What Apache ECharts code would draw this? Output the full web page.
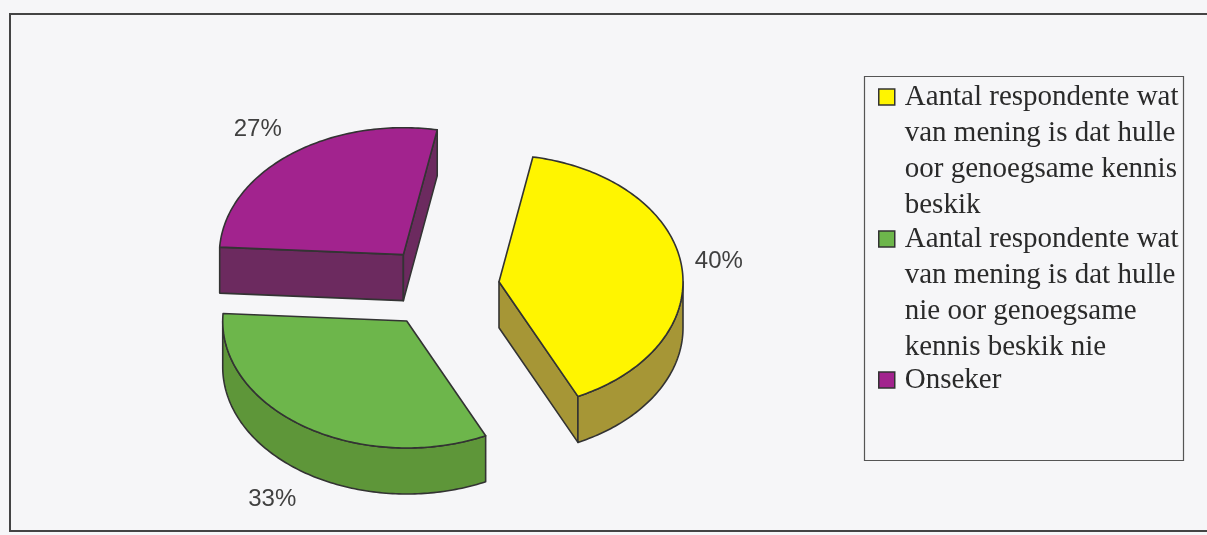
<!DOCTYPE html>
<html><head><meta charset="utf-8">
<script src="https://cdn.jsdelivr.net/npm/echarts@6/dist/echarts.min.js"></script>
<style>html,body{margin:0;padding:0;background:#f6f6f8}#chart{width:1207px;height:535px}</style>
</head><body><div id="chart"></div>
<script>
// ---- data ----
const categories = [
  'Aantal respondente wat van mening is dat hulle oor genoegsame kennis beskik',
  'Aantal respondente wat van mening is dat hulle nie oor genoegsame kennis beskik nie',
  'Onseker'
];
const legendLines = [
  ['Aantal respondente wat', 'van mening is dat hulle', 'oor genoegsame kennis', 'beskik'],
  ['Aantal respondente wat', 'van mening is dat hulle', 'nie oor genoegsame', 'kennis beskik nie'],
  ['Onseker']
];
const values = [40, 33, 27];

// ---- styles ----
const topColors = ['#FFF500', '#6DB64B', '#A2238E'];
const sideColors = ['#A69636', '#5E9639', '#6C2A5F'];

// ---- geometry of the pseudo-3D pie ----
const CX = 440, CY = 287, R = 184, K = 0.69, DEPTH = 46, EXPLODE = 59.5, START = 10.6;
const LRX = 257, LRY = 290;

const total = values.reduce((a, b) => a + b, 0);

function makeRender(i) {
  return function (params, api) {
    let before = 0;
    for (let j = 0; j < i; j++) before += values[j];
    const v = api.value(0);
    const a1 = (START + before / total * 360) * Math.PI / 180;
    const a2 = a1 + v / total * 2 * Math.PI;
    const am = (a1 + a2) / 2;
    const ox = CX + EXPLODE * Math.sin(am), oy = CY - EXPLODE * K * Math.cos(am);
    const pt = (a, r, dy) => [ox + r * Math.sin(a), oy - r * K * Math.cos(a) + (dy || 0)];
    const arc = (from, to, dy) => {
      const n = Math.max(2, Math.ceil((to - from) / (Math.PI / 180)));
      const pts = [];
      for (let s = 0; s <= n; s++) pts.push(pt(from + (to - from) * s / n, R, dy));
      return pts;
    };
    const line = { stroke: '#333', lineWidth: 1.6, lineJoin: 'round' };
    const children = [];
    const mid = pt(am, R * 0.5);
    [a1, a2].forEach(a => {
      const p = pt(a, R);
      const dx = p[0] - ox, dy = p[1] - oy;
      const s = dx * (mid[1] - oy) - dy * (mid[0] - ox);
      if (s * dx < 0) {
        children.push({
          type: 'polygon',
          shape: { points: [[ox, oy], p, [p[0], p[1] + DEPTH], [ox, oy + DEPTH]] },
          style: Object.assign({ fill: sideColors[i] }, line)
        });
      }
    });
    const w1 = Math.max(a1, Math.PI / 2), w2 = Math.min(a2, 1.5 * Math.PI);
    if (w2 > w1) {
      const topArc = arc(w1, w2, 0), botArc = arc(w1, w2, DEPTH).reverse();
      children.push({
        type: 'polygon',
        shape: { points: topArc.concat(botArc) },
        style: Object.assign({ fill: sideColors[i] }, line)
      });
    }
    children.push({
      type: 'polygon',
      shape: { points: [[ox, oy]].concat(arc(a1, a2, 0)) },
      style: Object.assign({ fill: topColors[i] }, line)
    });
    const lx = CX + LRX * Math.sin(am);
    const ly = CY - LRY * K * Math.cos(am) + (Math.cos(am) < 0 ? DEPTH : 0);
    const al = Math.sin(am) >= 0 ? 'left' : 'right';
    children.push({
      type: 'text',
      style: {
        text: Math.round(v / total * 100) + '%',
        x: lx, y: ly,
        fill: '#404040', textFill: '#404040',
        font: '24px "Liberation Sans", Arial, sans-serif',
        fontSize: 24, fontFamily: 'Liberation Sans',
        align: al, textAlign: al,
        verticalAlign: 'middle', textVerticalAlign: 'middle'
      }
    });
    return { type: 'group', children };
  };
}

// legend: the first text line is centred on the marker; blank lines above keep it there
const LINE_H = 36;
const legendIconCenter = [97, 239, 380];

const chart = echarts.init(document.getElementById('chart'), null, { renderer: 'canvas' });
chart.setOption({
  backgroundColor: '#f6f6f8',
  animation: false,
  graphic: [
    { type: 'rect', silent: true, z: -10, shape: { x: 10, y: 14, width: 1215, height: 517 },
      style: { fill: 'none', stroke: '#444', lineWidth: 2 } },
    { type: 'rect', silent: true, z: -10, shape: { x: 864.5, y: 76.5, width: 319, height: 384 },
      style: { fill: 'none', stroke: '#555', lineWidth: 1.2 } }
  ],
  legend: legendLines.map((lines, i) => {
    const pad = lines.length - 1;
    const nLines = lines.length + pad;
    const bottomEdge = legendIconCenter[i] + nLines * LINE_H / 2;
    return {
      data: [categories[i]],
      orient: 'vertical',
      left: 878,
      bottom: 535 - bottomEdge,
      padding: 0,
      icon: 'path://M0,0H10V10H0Z',
      symbolKeepAspect: true,
      itemWidth: 26,
      itemHeight: 16,
      selectedMode: false,
      itemStyle: { borderColor: '#333', borderWidth: 1.5 },
      formatter: () => '\n'.repeat(pad) + lines.join('\n'),
      textStyle: {
        fontFamily: 'Liberation Serif', fontSize: 29, color: '#2a2a2a', lineHeight: LINE_H,
        backgroundColor: 'rgba(0,0,0,0)'
      }
    };
  }),
  series: categories.map((name, i) => ({
    type: 'custom',
    name: name,
    coordinateSystem: 'none',
    silent: true,
    itemStyle: { color: topColors[i] },
    data: [[values[i]]],
    renderItem: makeRender(i)
  }))
});
</script>
</body></html>
